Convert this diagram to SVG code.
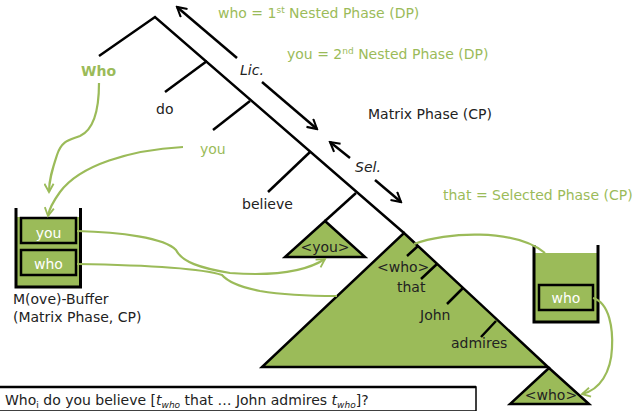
<svg xmlns="http://www.w3.org/2000/svg" width="633" height="411" viewBox="0 0 633 411">
<defs>
<style>
text{font-family:"DejaVu Sans",Verdana,sans-serif;font-size:14px;fill:#222}
.g{fill:#9BBB59}
.w{fill:#fff}
.it{font-style:italic}
.b{font-weight:bold}
.tree{stroke:#000;stroke-width:2.5;fill:none;stroke-linecap:butt}
.tri{stroke:#000;stroke-width:2.5;fill:#9BBB59;stroke-linejoin:miter}
.arr{stroke:#000;stroke-width:2.5;fill:none;marker-end:url(#ah)}
.gc{stroke:#9BBB59;stroke-width:2.2;fill:none}
.gca{stroke:#9BBB59;stroke-width:2.2;fill:none;marker-end:url(#gh)}
.wall{stroke:#000;stroke-width:3;fill:none}
.box{stroke:#000;stroke-width:2.5;fill:#9BBB59}
</style>
<marker id="ah" viewBox="0 0 12 12" refX="10" refY="6" markerWidth="5" markerHeight="5" orient="auto" markerUnits="strokeWidth">
<path d="M1,1 L10,6 L1,11" fill="none" stroke="#000" stroke-width="2"/>
</marker>
<marker id="gh" viewBox="0 0 12 12" refX="10" refY="6" markerWidth="5" markerHeight="5" orient="auto" markerUnits="strokeWidth">
<path d="M1,1 L10,6 L1,11" fill="none" stroke="#9BBB59" stroke-width="2"/>
</marker>
</defs>
<rect width="633" height="411" fill="#fff"/>

<g id="tree">
<path class="tree" d="M99,56 L155,17 L404,233"/>
<path class="tree" d="M207,61 L165,92"/>
<path class="tree" d="M250,101 L213,130"/>
<path class="tree" d="M310,152 L268,192"/>
<path class="tree" d="M356,193 L325,221"/>
</g>

<g id="you-triangle">
<polygon class="tri" points="325,221 365,257 285,257"/>
<text x="325" y="252" text-anchor="middle">&lt;you&gt;</text>
</g>

<g id="embedded-cp">
<polygon class="tri" points="404,233 548,367 262,367"/>
<path class="tree" d="M418,246 L407,256 M437,264 L421,279 M463,288 L447,304 M496,321 L481,337"/>
<text x="377" y="272">&lt;who&gt;</text>
<text x="397" y="292">that</text>
<text x="420" y="320">John</text>
<text x="451" y="348">admires</text>
</g>

<g id="who-triangle">
<polygon class="tri" points="549,368 589,404 510,404"/>
<text x="551" y="400" text-anchor="middle">&lt;who&gt;</text>
</g>

<g id="labels">
<text class="g b" x="81" y="76">Who</text>
<text x="156" y="114">do</text>
<text class="g" x="200" y="154">you</text>
<text x="242" y="209">believe</text>
<text class="it" x="240" y="75">Lic.</text>
<text class="it" x="355" y="172">Sel.</text>
<text class="g" x="218" y="18">who = 1<tspan font-size="9" dy="-5">st</tspan><tspan dy="5"> Nested Phase (DP)</tspan></text>
<text class="g" x="287" y="59">you = 2<tspan font-size="9" dy="-5">nd</tspan><tspan dy="5"> Nested Phase (DP)</tspan></text>
<text x="368" y="119">Matrix Phase (CP)</text>
<text class="g" x="443" y="200">that = Selected Phase (CP)</text>
</g>

<g id="matrix-buffer">
<rect x="16" y="217" width="65" height="70" fill="#9BBB59"/>
<path class="wall" d="M16,208 L16,287 L80.5,287 L80.5,208"/>
<rect class="box" x="21" y="218" width="55" height="25"/>
<rect class="box" x="21" y="250" width="55" height="25"/>
<text class="w" x="48.5" y="238" text-anchor="middle">you</text>
<text class="w" x="48.5" y="269" text-anchor="middle">who</text>
<text x="13" y="304">M(ove)-Buffer</text>
<text x="13" y="322">(Matrix Phase, CP)</text>
</g>

<g id="selected-buffer">
<rect x="534" y="253" width="64" height="69" fill="#9BBB59"/>
<path class="wall" d="M534,245 L534,322 L598,322 L598,245"/>
<rect class="box" x="539" y="285" width="54" height="25"/>
<text class="w" x="566" y="303" text-anchor="middle">who</text>
</g>

<g id="connectors">
<path class="arr" d="M237,58 L177,7"/>
<path class="arr" d="M262,82 L317,129"/>
<path class="arr" d="M350,158 L330,142"/>
<path class="arr" d="M375,180 L401,202"/>
<path class="gca" d="M99,83 C99,110 93,130 80,136 C70,140 62,140 57,155 C52,170 49,180 49,192"/>
<path class="gca" d="M183,147 C130,150 80,165 60,192 C52,203 49,210 48,216"/>
<path class="gca" d="M77,231 C120,232 165,238 176,250 C182,262 200,268 230,273 C270,276 305,272 325,259"/>
<path class="gc" d="M77,264 C140,265 200,268 222,275 C228,282 240,287 260,291 C290,296 320,296 337,296"/>
<path class="gc" d="M414,244 C445,232 515,228 545,253"/>
<path class="gca" d="M593,298 C610,303 613,330 612,348 C611,372 600,390 582,394"/>
</g>

<g id="sentence">
<rect x="-2" y="387" width="478" height="24" fill="#fff" stroke="#000" stroke-width="1.5"/>
<line x1="0" y1="387" x2="476" y2="387" stroke="#000" stroke-width="2.5"/>
<text x="5" y="405" font-size="14.2">Who<tspan font-size="9" dy="3">i</tspan><tspan dy="-3"> do you believe [</tspan><tspan class="it">t</tspan><tspan class="it" font-size="9" dy="3">who</tspan><tspan dy="-3"> that … John admires </tspan><tspan class="it">t</tspan><tspan class="it" font-size="9" dy="3">who</tspan><tspan dy="-3">]?</tspan></text>
</g>
</svg>
